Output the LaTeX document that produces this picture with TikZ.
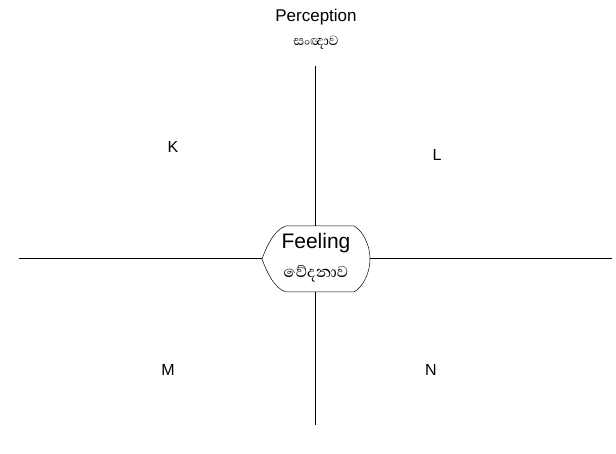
\documentclass[tikz,border=0pt]{standalone}
\usepackage{fontspec}
\setmainfont{Liberation Sans}
\newfontfamily\sinfont[Script=Sinhala]{Abhaya Libre}
\usepackage{tikz}
\usetikzlibrary{positioning, calc}

\tikzset{
  axis/.style={line width=1pt},
  quadlbl/.style={font=\fontsize{16}{18}\selectfont},
  enlbl/.style={font=\fontsize{17}{19}\selectfont},
  silbl/.style={font=\sinfont\fontsize{17}{19}\selectfont}
}

\begin{document}
\begin{tikzpicture}[x=1pt, y=-1pt]

    \useasboundingbox (0,0) rectangle (616,454);

    % ends of the two axes
    \coordinate (lft) at (19,259);
    \coordinate (rgt) at (612,259);
    \coordinate (top) at (315,66);
    \coordinate (bot) at (315,425);

    % corners of the feeling box
    \coordinate (fw) at (262,259);
    \coordinate (fe) at (370,259);
    \coordinate (fnw) at (286,226);
    \coordinate (fne) at (354,226);
    \coordinate (fsw) at (286,292);
    \coordinate (fse) at (354,292);
    \coordinate (fn) at (315,226);
    \coordinate (fs) at (315,292);

    \draw[line width=0.5pt] (fw) .. controls (267,245) and (275,229) .. (fnw) -- (fne)
        .. controls (363,231) and (370,245) .. (fe)
        .. controls (370,273) and (363,287) .. (fse) -- (fsw)
        .. controls (275,289) and (267,273) .. cycle;

    \draw[axis] (lft) -- (fw);
    \draw[axis] (fe) -- (rgt);
    \draw[axis] (top) -- (fn);
    \draw[axis] (fs) -- (bot);

    \node[font=\fontsize{21}{23}\selectfont] (feel) at (316,243) {Feeling};
    \node[font=\sinfont\fontsize{20}{22}\selectfont] (feelsi) at (316,274) {වේදනාව};

    \node[enlbl] (perc) at (316,17) {Perception};
    \node[silbl] (percsi) at (316,43) {සංඥාව};

    \node[quadlbl] (k) at (173,147) {K};
    \node[quadlbl] (l) at (437,155) {L};
    \node[quadlbl] (m) at (168,370) {M};
    \node[quadlbl] (n) at (431,370) {N};

\end{tikzpicture}
\end{document}
